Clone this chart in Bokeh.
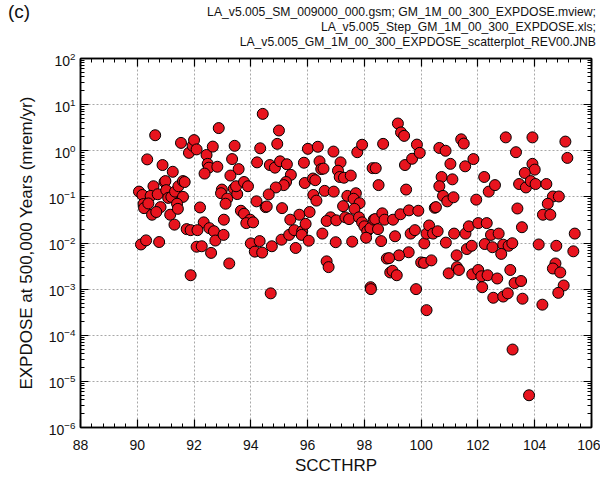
from bokeh.plotting import figure
from bokeh.layouts import column
from bokeh.models import (LinearAxis, LogAxis, SingleIntervalTicker, FixedTicker,
                          Range1d, ColumnDataSource, Div)
from bokeh.embed import file_html
from bokeh.resources import INLINE

# ---- data (SCCTHRP vs EXPDOSE at 500,000 yr) ----
scc_thrp = [
    90.63, 90.35, 90.89, 91.25, 90.06, 90.18, 90.57, 90.47, 90.72, 90.96, 90.99, 91.02,
    91.09, 91.20, 91.33, 91.45, 91.61, 91.67, 91.61, 90.22, 90.24, 90.39, 90.82, 90.52,
    90.67, 91.16, 91.40, 91.43, 91.31, 90.13, 90.31, 90.77, 91.54, 91.82, 91.95, 92.00,
    92.09, 92.44, 92.66, 92.87, 92.48, 92.52, 92.37, 92.82, 92.21, 92.34, 91.74, 91.88,
    92.12, 92.54, 92.70, 92.75, 93.04, 93.05, 92.09, 92.27, 92.60, 92.98, 92.95, 93.17,
    93.11, 93.34, 93.43, 93.57, 93.28, 93.40, 93.52, 93.48, 93.76, 93.90, 93.65, 93.76,
    93.98, 93.84, 94.08, 94.22, 94.20, 94.00, 94.14, 93.24, 91.88, 94.31,
    94.42, 94.99, 94.93, 94.33, 94.67, 94.85, 95.03, 95.27, 95.41, 95.24, 95.16, 94.88,
    94.63, 94.52, 94.56, 95.10, 94.40, 94.74, 95.08, 95.58, 95.35, 95.53, 95.71, 95.39,
    95.81, 95.93, 95.79, 96.04, 96.07, 95.90, 96.19, 96.27, 95.87, 96.01, 96.36, 96.42,
    96.48, 96.56, 96.20, 96.31, 96.60, 96.92, 96.91, 97.16, 97.07, 97.13, 97.28, 97.52,
    97.40, 97.70, 97.62, 97.83, 97.25, 97.65, 97.75, 97.92, 96.81, 96.67, 97.01, 97.33,
    97.46, 97.81, 97.92, 98.00, 98.10, 98.21, 98.06, 96.52, 96.99, 97.57, 98.33, 98.38,
    98.48, 98.63, 98.71, 99.01, 99.27, 99.57, 99.90, 98.59, 99.08, 99.63, 99.78, 100.11,
    99.56, 99.22, 98.29, 98.40, 98.50, 98.66, 99.18, 99.29, 99.40, 99.43, 99.68, 99.85,
    99.95, 99.47,
    94.70, 96.67, 96.74, 98.22, 98.23, 98.79, 98.87, 98.91, 98.99, 99.14, 100.00, 99.82,
    100.19, 100.19,
    100.64, 100.86, 101.41, 101.50, 101.03, 101.55, 101.84, 100.72, 101.10, 100.64, 100.77,
    100.92, 101.14, 100.48, 100.52, 101.94, 102.22, 102.38, 102.60, 102.98, 103.34, 103.92,
    105.08, 105.15, 103.92, 104.00, 103.65, 103.45, 103.69, 103.86, 104.03, 104.41, 104.64,
    104.85, 104.46, 104.29, 104.55, 103.39, 103.55, 105.41, 100.28, 100.42, 100.58, 100.87,
    101.16, 101.25, 101.56, 101.68, 102.01, 102.31, 101.61, 101.78, 102.24, 102.51, 102.46,
    102.73, 102.89, 103.08, 103.21, 102.82, 104.14, 104.76, 105.36,
    100.10, 100.36, 100.97, 101.26, 101.33, 101.80, 102.01, 102.12, 102.15, 102.34, 102.68,
    102.54, 102.89, 103.05, 103.14, 103.29, 103.52, 103.57, 103.22, 103.80, 104.27, 104.73,
    104.64, 104.90, 105.02, 104.83,
]

expdose = [
    2.17, 0.65, 0.49, 0.35, 0.13, 0.11, 0.17, 0.105, 0.114, 0.21, 0.22, 0.14,
    0.095, 0.10, 0.13, 0.17, 0.22, 0.21, 0.10, 0.07, 0.057, 0.072, 0.06, 0.041,
    0.047, 0.041, 0.071, 0.055, 0.025, 0.0093, 0.0114, 0.0105, 1.48, 0.90, 1.28, 1.70,
    1.07, 0.81, 1.23, 3.1, 0.52, 0.43, 0.32, 0.45, 0.059, 0.028, 0.020, 0.019,
    0.019, 0.021, 0.018, 0.0113, 0.015, 0.032, 0.0083, 0.0085, 0.0061, 0.144, 0.12, 0.092,
    0.071, 0.66, 1.28, 0.40, 0.29, 0.15, 0.115, 0.17, 0.21, 0.17, 0.05, 0.043,
    0.032, 0.027, 0.028, 0.56, 0.08, 0.0098, 0.0065, 0.0036, 0.002, 0.011,
    6.3, 2.75, 1.41, 1.13, 0.49, 0.43, 0.59, 0.51, 0.30, 0.21, 0.18, 0.16,
    0.113, 0.06, 0.062, 0.057, 0.0062, 0.0085, 0.0118, 0.0078, 0.015, 0.019, 0.041, 0.032,
    0.018, 0.026, 0.015, 0.0112, 0.047, 0.20, 0.25, 0.23, 0.55, 1.10, 1.22, 0.59,
    0.40, 0.41, 0.11, 0.083, 0.135, 0.13, 0.96, 0.56, 0.37, 0.27, 0.26, 0.29,
    0.105, 0.12, 0.091, 0.073, 0.063, 0.055, 0.93, 1.35, 0.036, 0.030, 0.031, 0.036,
    0.033, 0.036, 0.028, 0.023, 0.018, 0.021, 0.013, 0.016, 0.0104, 0.0107, 0.032, 0.033,
    0.020, 0.044, 0.032, 0.032, 0.042, 0.051, 0.050, 0.011, 0.014, 0.016, 0.019, 0.0098,
    0.0063, 0.0054, 0.42, 0.42, 0.18, 1.41, 3.9, 2.5, 2.1, 0.49, 0.67, 1.36,
    0.90, 0.144,
    0.00081, 0.004, 0.003, 0.0011, 0.001, 0.0046, 0.0047, 0.0023, 0.0025, 0.002, 0.0038, 0.001,
    0.00035, 0.016,
    1.15, 1.0, 1.77, 1.43, 0.52, 0.46, 0.66, 0.27, 0.24, 0.17, 0.105,
    0.08, 0.098, 0.058, 0.060, 0.087, 0.27, 0.13, 0.18, 1.95, 0.93, 1.95,
    1.58, 0.70, 0.52, 0.39, 0.33, 0.19, 0.16, 0.22, 0.19, 0.19, 0.102,
    0.102, 0.071, 0.041, 0.041, 0.056, 0.022, 0.016, 0.024, 0.016, 0.018, 0.0102,
    0.016, 0.0054, 0.016, 0.023, 0.027, 0.027, 0.0074, 0.0087, 0.0095, 0.0081, 0.015,
    0.016, 0.0092, 0.0087, 0.0099, 0.0058, 0.0093, 0.0087, 0.0066,
    0.0037, 0.0042, 0.0022, 0.003, 0.0026, 0.0021, 0.0026, 0.0019, 0.0011, 0.002, 0.0017,
    0.00065, 0.00069, 0.00081, 0.0026, 0.00135, 0.0015, 0.00062, 4.9e-5, 5e-6, 0.00046, 0.0036,
    0.0028, 0.0023, 0.0012, 0.00083,
]

x_major = [88, 90, 92, 94, 96, 98, 100, 102, 104, 106]
y_major = [1e-6, 1e-5, 1e-4, 1e-3, 1e-2, 1e-1, 1e0, 1e1, 1e2]

header_lines = [
    "LA_v5.005_SM_009000_000.gsm; GM_1M_00_300_EXPDOSE.mview;",
    "LA_v5.005_Step_GM_1M_00_300_EXPDOSE.xls;",
    "LA_v5.005_GM_1M_00_300_EXPDOSE_scatterplot_REV00.JNB",
]
panel_tag = "(c)"
x_title = "SCCTHRP"
y_title = "EXPDOSE at 500,000 Years (mrem/yr)"

FONT = "Liberation Sans"

# ---- header (panel tag + file names) ----
header_html = (
    '<div style="position:relative;width:600px;height:50px;'
    'font-family:\'Liberation Sans\',Arial,sans-serif;color:#111111;">'
    '<div style="position:absolute;left:8px;top:1px;font-size:19px;line-height:22px;">'
    + panel_tag + '</div>'
    '<div style="position:absolute;right:4px;top:5px;font-size:12.2px;line-height:15px;'
    'text-align:right;white-space:nowrap;">'
    + "<br>".join(header_lines) + '</div></div>'
)
header = Div(text=header_html, width=600, height=50, margin=(0, 0, 0, 0))

# ---- figure ----
p = figure(width=600, height=429,
           x_range=Range1d(88, 106), y_range=Range1d(1e-6, 1e2),
           y_axis_type="log", output_backend="svg", toolbar_location=None,
           min_border_left=80, min_border_right=9, min_border_top=8,
           min_border_bottom=52, margin=(0, 0, 0, 0))
p.title = None
p.background_fill_color = "white"
p.border_fill_color = "white"
p.outline_line_color = "black"
p.outline_line_width = 1.5

x_ticker = SingleIntervalTicker(interval=2, num_minor_ticks=5)
y_minor = [m * 10.0 ** e for e in range(-6, 2) for m in range(2, 10)]
y_ticker = FixedTicker(ticks=y_major, minor_ticks=y_minor)

def style_axis(ax, show_labels=True):
    ax.axis_line_color = "black"
    ax.axis_line_width = 1.5
    ax.major_tick_in = 8
    ax.major_tick_out = 0
    ax.minor_tick_in = 4
    ax.minor_tick_out = 0
    ax.major_tick_line_color = "black"
    ax.minor_tick_line_color = "black"
    ax.major_tick_line_width = 1.2
    ax.minor_tick_line_width = 1
    ax.major_label_text_font = FONT
    ax.major_label_text_font_size = "14px"
    ax.major_label_text_color = "#111111"
    ax.axis_label_text_font = FONT
    ax.axis_label_text_font_size = "17px"
    ax.axis_label_text_font_style = "normal"
    ax.axis_label_text_color = "#111111"
    if not show_labels:
        ax.major_label_text_color = None
        ax.major_label_text_font_size = "2px"
        ax.major_label_standoff = 0

xa = p.xaxis[0]
xa.ticker = x_ticker
xa.axis_label = x_title
style_axis(xa)
xa.major_label_standoff = 12
xa.axis_label_standoff = 3

ya = p.yaxis[0]
ya.ticker = y_ticker
ya.axis_label = y_title
style_axis(ya)
ya.major_label_standoff = 5
ya.axis_label_standoff = 10

top = LinearAxis(ticker=x_ticker)
style_axis(top, show_labels=False)
p.add_layout(top, "above")
right = LogAxis(ticker=y_ticker)
style_axis(right, show_labels=False)
p.add_layout(right, "right")

p.xgrid.ticker = x_ticker
p.ygrid.ticker = y_ticker
for g in (p.xgrid[0], p.ygrid[0]):
    g.grid_line_color = "#a8a8a8"
    g.grid_line_dash = "2 2"
    g.grid_line_width = 1

src = ColumnDataSource(dict(x=scc_thrp, y=expdose))
p.scatter("x", "y", source=src, size=11, fill_color="#e8141e",
          line_color="black", line_width=1)

layout = column(header, p, spacing=0)
open("out.html", "w").write(file_html(layout, INLINE))
